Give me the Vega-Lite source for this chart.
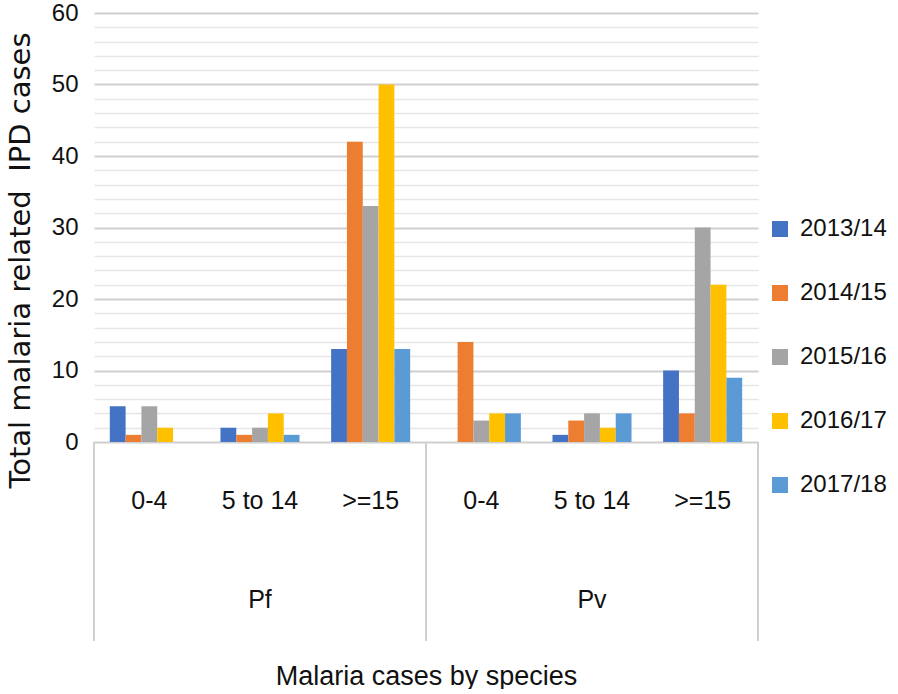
{
  "$schema": "https://vega.github.io/schema/vega-lite/v6.json",
  "padding": {"left": 6, "top": 1, "right": 0, "bottom": 0},
  "background": "white",
  "bounds": "flush",
  "config": {
    "view": {"stroke": null},
    "font": "Liberation Sans",
    "text": {"font": "Liberation Sans"}
  },
  "spacing": 0,
  "resolve": {"scale": {"x": "shared"}},
  "datasets": {
    "cases": [
      {"species": "Pf", "age": "0-4", "year": "2013/14", "cases": 5},
      {"species": "Pf", "age": "0-4", "year": "2014/15", "cases": 1},
      {"species": "Pf", "age": "0-4", "year": "2015/16", "cases": 5},
      {"species": "Pf", "age": "0-4", "year": "2016/17", "cases": 2},
      {"species": "Pf", "age": "0-4", "year": "2017/18", "cases": 0},
      {"species": "Pf", "age": "5 to 14", "year": "2013/14", "cases": 2},
      {"species": "Pf", "age": "5 to 14", "year": "2014/15", "cases": 1},
      {"species": "Pf", "age": "5 to 14", "year": "2015/16", "cases": 2},
      {"species": "Pf", "age": "5 to 14", "year": "2016/17", "cases": 4},
      {"species": "Pf", "age": "5 to 14", "year": "2017/18", "cases": 1},
      {"species": "Pf", "age": ">=15", "year": "2013/14", "cases": 13},
      {"species": "Pf", "age": ">=15", "year": "2014/15", "cases": 42},
      {"species": "Pf", "age": ">=15", "year": "2015/16", "cases": 33},
      {"species": "Pf", "age": ">=15", "year": "2016/17", "cases": 50},
      {"species": "Pf", "age": ">=15", "year": "2017/18", "cases": 13},
      {"species": "Pv", "age": "0-4", "year": "2013/14", "cases": 0},
      {"species": "Pv", "age": "0-4", "year": "2014/15", "cases": 14},
      {"species": "Pv", "age": "0-4", "year": "2015/16", "cases": 3},
      {"species": "Pv", "age": "0-4", "year": "2016/17", "cases": 4},
      {"species": "Pv", "age": "0-4", "year": "2017/18", "cases": 4},
      {"species": "Pv", "age": "5 to 14", "year": "2013/14", "cases": 1},
      {"species": "Pv", "age": "5 to 14", "year": "2014/15", "cases": 3},
      {"species": "Pv", "age": "5 to 14", "year": "2015/16", "cases": 4},
      {"species": "Pv", "age": "5 to 14", "year": "2016/17", "cases": 2},
      {"species": "Pv", "age": "5 to 14", "year": "2017/18", "cases": 4},
      {"species": "Pv", "age": ">=15", "year": "2013/14", "cases": 10},
      {"species": "Pv", "age": ">=15", "year": "2014/15", "cases": 4},
      {"species": "Pv", "age": ">=15", "year": "2015/16", "cases": 30},
      {"species": "Pv", "age": ">=15", "year": "2016/17", "cases": 22},
      {"species": "Pv", "age": ">=15", "year": "2017/18", "cases": 9}
    ],
    "cats": [
      {"species": "Pf", "age": "0-4"},
      {"species": "Pf", "age": "5 to 14"},
      {"species": "Pf", "age": ">=15"},
      {"species": "Pv", "age": "0-4"},
      {"species": "Pv", "age": "5 to 14"},
      {"species": "Pv", "age": ">=15"}
    ]
  },
  "vconcat": [
    {
      "width": 664,
      "height": 429,
      "data": {"name": "cases"},
      "transform": [{"calculate": "datum.species + '|' + datum.age", "as": "key"}],
      "mark": {"type": "bar"},
      "encoding": {
        "x": {
          "field": "key", "type": "nominal",
          "scale": {"domain": ["Pf|0-4", "Pf|5 to 14", "Pf|>=15", "Pv|0-4", "Pv|5 to 14", "Pv|>=15"], "paddingInner": 0, "paddingOuter": 0},
          "axis": null
        },
        "xOffset": {
          "field": "year", "type": "nominal",
          "scale": {"paddingInner": 0, "paddingOuter": 1.5}
        },
        "y": {
          "field": "cases", "type": "quantitative",
          "scale": {"domain": [0, 60], "nice": false},
          "axis": {
            "values": [0, 2, 4, 6, 8, 10, 12, 14, 16, 18, 20, 22, 24, 26, 28, 30, 32, 34, 36, 38, 40, 42, 44, 46, 48, 50, 52, 54, 56, 58, 60],
            "labelExpr": "datum.value % 10 === 0 ? datum.label : ''",
            "grid": true,
            "gridColor": {"condition": {"test": "datum.value % 10 === 0", "value": "#cfcfcf"}, "value": "#e6e6e6"},
            "gridWidth": {"condition": {"test": "datum.value % 10 === 0", "value": 2}, "value": 1.5},
            "domain": false,
            "ticks": false,
            "labelFontSize": 24,
            "labelColor": "#111111",
            "labelPadding": 16,
            "title": "Total malaria related \u00a0IPD cases",
            "titleFont": "DejaVu Sans",
            "titleFontSize": 29,
            "titleFontWeight": "normal",
            "titleColor": "#111111",
            "titlePadding": 16,
            "titleY": 247
          }
        },
        "color": {
          "field": "year", "type": "nominal",
          "scale": {
            "domain": ["2013/14", "2014/15", "2015/16", "2016/17", "2017/18"],
            "range": ["#4472C4", "#ED7D31", "#A5A5A5", "#FFC000", "#5B9BD5"]
          },
          "legend": {
            "orient": "none",
            "legendX": 674,
            "legendY": 204,
            "title": null,
            "symbolType": "square",
            "symbolSize": 256,
            "symbolStrokeWidth": 0,
            "labelFontSize": 24,
            "labelColor": "#111111",
            "labelOffset": 8,
            "rowPadding": 40
          }
        }
      }
    },
    {
      "width": 664,
      "height": 199,
      "data": {"name": "cats"},
      "transform": [{"calculate": "datum.species + '|' + datum.age", "as": "key"}],
      "layer": [
        {
          "mark": {"type": "rule", "color": "#d0d0d0", "strokeWidth": 2},
          "transform": [{"filter": "datum.age === '0-4'"}],
          "encoding": {
            "x": {
              "field": "key", "type": "nominal", "bandPosition": 0,
              "scale": {"domain": ["Pf|0-4", "Pf|5 to 14", "Pf|>=15", "Pv|0-4", "Pv|5 to 14", "Pv|>=15"], "paddingInner": 0, "paddingOuter": 0},
              "axis": {
                "labels": false, "ticks": false, "domain": false,
                "title": "Malaria cases by species",
                "titleFontSize": 27,
                "titleFontWeight": "normal",
                "titleColor": "#111111",
                "titlePadding": 22
              }
            }
          }
        },
        {
          "mark": {"type": "rule", "color": "#d0d0d0", "strokeWidth": 2},
          "transform": [{"filter": "datum.key === 'Pv|>=15'"}],
          "encoding": {
            "x": {"field": "key", "type": "nominal", "bandPosition": 1}
          }
        },
        {
          "mark": {"type": "text", "fontSize": 25, "color": "#111111", "baseline": "middle", "dy": 9},
          "encoding": {
            "x": {"field": "key", "type": "nominal"},
            "y": {"datum": "age", "type": "nominal", "scale": {"domain": ["age", "species"], "type": "point", "padding": 0.5}, "axis": null},
            "text": {"field": "age"}
          }
        },
        {
          "mark": {"type": "text", "fontSize": 25, "color": "#111111", "baseline": "middle", "dy": 9},
          "transform": [{"filter": "datum.age === '5 to 14'"}],
          "encoding": {
            "x": {"field": "key", "type": "nominal"},
            "y": {"datum": "species", "type": "nominal"},
            "text": {"field": "species"}
          }
        }
      ]
    }
  ]
}
